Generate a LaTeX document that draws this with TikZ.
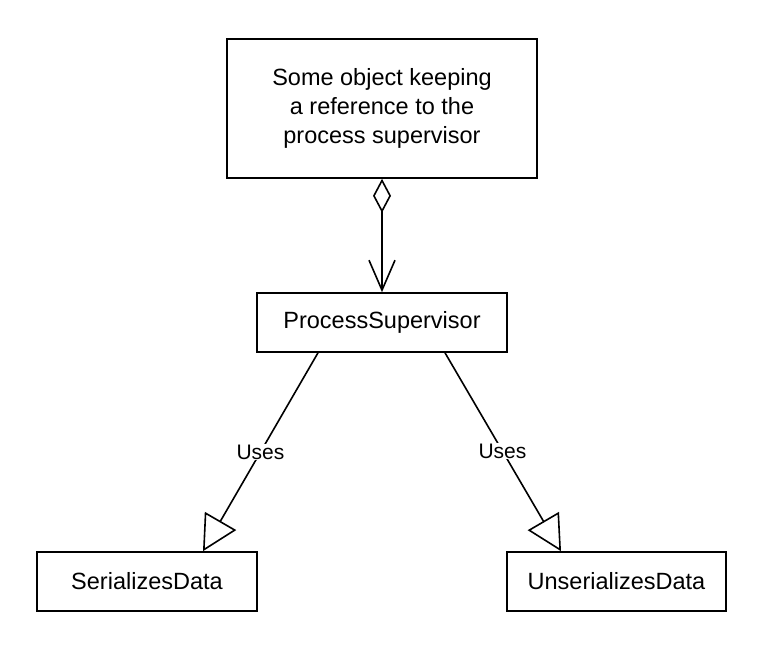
\documentclass[tikz,border=0pt]{standalone}
\usepackage{fontspec}
\setmainfont{Liberation Sans}
\usetikzlibrary{arrows.meta}
\begin{document}
\begin{tikzpicture}[x=1pt,y=-1pt,
  box/.style={draw,line width=1.6pt,inner sep=0pt,align=center,font=\fontsize{23.5}{29}\selectfont},
  agg/.style={line width=1.6pt,{Diamond[open,length=34pt,width=18pt,line width=1.6pt]}-{Straight Barb[length=30pt,width=26pt,line width=1.6pt]}},
  gen/.style={line width=1.6pt,-{Triangle[open,length=35pt,width=36pt,line width=1.6pt]}},
  lbl/.style={fill=white,inner sep=1pt,font=\fontsize{21}{24}\selectfont}]
\useasboundingbox (0,0) rectangle (764,646);
\node[box,minimum width=310pt,minimum height=139pt] (top) at (382,108.5)
  {Some object keeping\\a reference to the\\process supervisor};
\node[box,minimum width=250pt,minimum height=59pt] (ps) at (382,322.5) {ProcessSupervisor};
\node[box,minimum width=220pt,minimum height=59pt] (sd) at (147,581.5) {SerializesData};
\node[box,minimum width=219pt,minimum height=59pt] (ud) at (616.5,581.5) {UnserializesData};
\draw[agg] (top.south) -- (ps.north);
\draw[gen] ([xshift=-64pt]ps.south) -- node[lbl,pos=0.5] (u1) {Uses} ([xshift=56pt]sd.north);
\draw[gen] ([xshift=63pt]ps.south) -- node[lbl,pos=0.495] (u2) {Uses} ([xshift=-55.5pt]ud.north);
\end{tikzpicture}
\end{document}
